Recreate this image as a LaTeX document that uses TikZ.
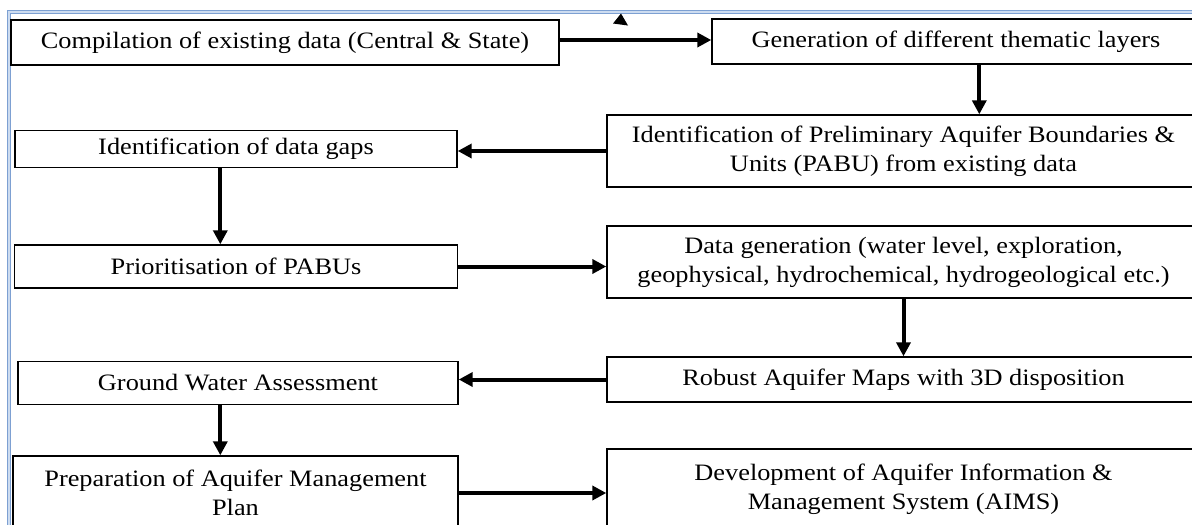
\documentclass[tikz,border=0pt]{standalone}
\usepackage{fontspec}
\setmainfont{Liberation Serif}[FakeStretch=1.12]
\usetikzlibrary{arrows.meta}
\definecolor{framblue}{RGB}{125,160,210}
\definecolor{framlight}{RGB}{205,220,240}
\tikzset{
  stepbox/.style={draw=black, line width=1.4pt, fill=white, align=center,
    inner sep=0pt, font=\fontsize{23.5}{29}\selectfont},
  flow/.style={line width=4pt, -{Triangle[length=14pt,width=14pt]}},
  frame/.style={draw=framblue, line width=1pt, double=framlight, double distance=1.2pt}
}
\begin{document}
\begin{tikzpicture}[x=1pt,y=-1pt]
\clip (0,0) rectangle (1192,525);
\fill[white] (0,0) rectangle (1192,525);
% outer frame
\draw[frame] (9,530) -- (9,12) -- (1200,12);
% stray arrowhead near the top edge
\fill (621,13.5) -- (628,25.5) -- (613,23.5) -- cycle;

% left column
\node[stepbox, minimum width=548, minimum height=45] (b1) at (285,42.5)
  {Compilation of existing data (Central \& State)};
\node[stepbox, minimum width=442, minimum height=37] (b4) at (236,149)
  {Identification of data gaps};
\node[stepbox, minimum width=443, minimum height=43] (b5) at (236,266.5)
  {Prioritisation of PABUs};
\node[stepbox, minimum width=440, minimum height=43] (b8) at (238,383)
  {Ground Water Assessment};
\node[stepbox, minimum width=445, minimum height=74] (b9) at (235.5,493)
  {Preparation of Aquifer Management\\Plan};

% right column
\node[stepbox, minimum width=488, minimum height=45] (b2) at (956,41.5)
  {Generation of different thematic layers};
\node[stepbox, minimum width=593, minimum height=72] (b3) at (903.5,151)
  {Identification of Preliminary Aquifer Boundaries \&\\Units (PABU) from existing data};
\node[stepbox, minimum width=593, minimum height=72] (b6) at (903.5,262)
  {Data generation (water level, exploration,\\geophysical, hydrochemical, hydrogeological etc.)};
\node[stepbox, minimum width=593, minimum height=45] (b7) at (903.5,379.5)
  {Robust Aquifer Maps with 3D disposition};
\node[stepbox, minimum width=593, minimum height=80] (b10) at (903.5,489)
  {Development of Aquifer Information \&\\Management System (AIMS)};

% connectors
\coordinate (p2) at ([xshift=268pt]b2.south west);
\coordinate (p4) at ([xshift=206pt]b4.south west);
\coordinate (p8) at ([xshift=203pt]b8.south west);
\draw[flow] ([yshift=2.5pt]b1.east) -- ([yshift=2.5pt]b1.east -| b2.west);
\draw[flow] (p2) -- (p2 |- b3.north);
\draw[flow] (b3.west) -- (b3.west -| b4.east);
\draw[flow] (p4) -- (p4 |- b5.north);
\draw[flow] (b5.east) -- (b5.east -| b6.west);
\draw[flow] (b6.south) -- (b6.south |- b7.north);
\draw[flow] (b7.west) -- (b7.west -| b8.east);
\draw[flow] (p8) -- (p8 |- b9.north);
\draw[flow] (b9.east) -- (b9.east -| b10.west);
\end{tikzpicture}
\end{document}
